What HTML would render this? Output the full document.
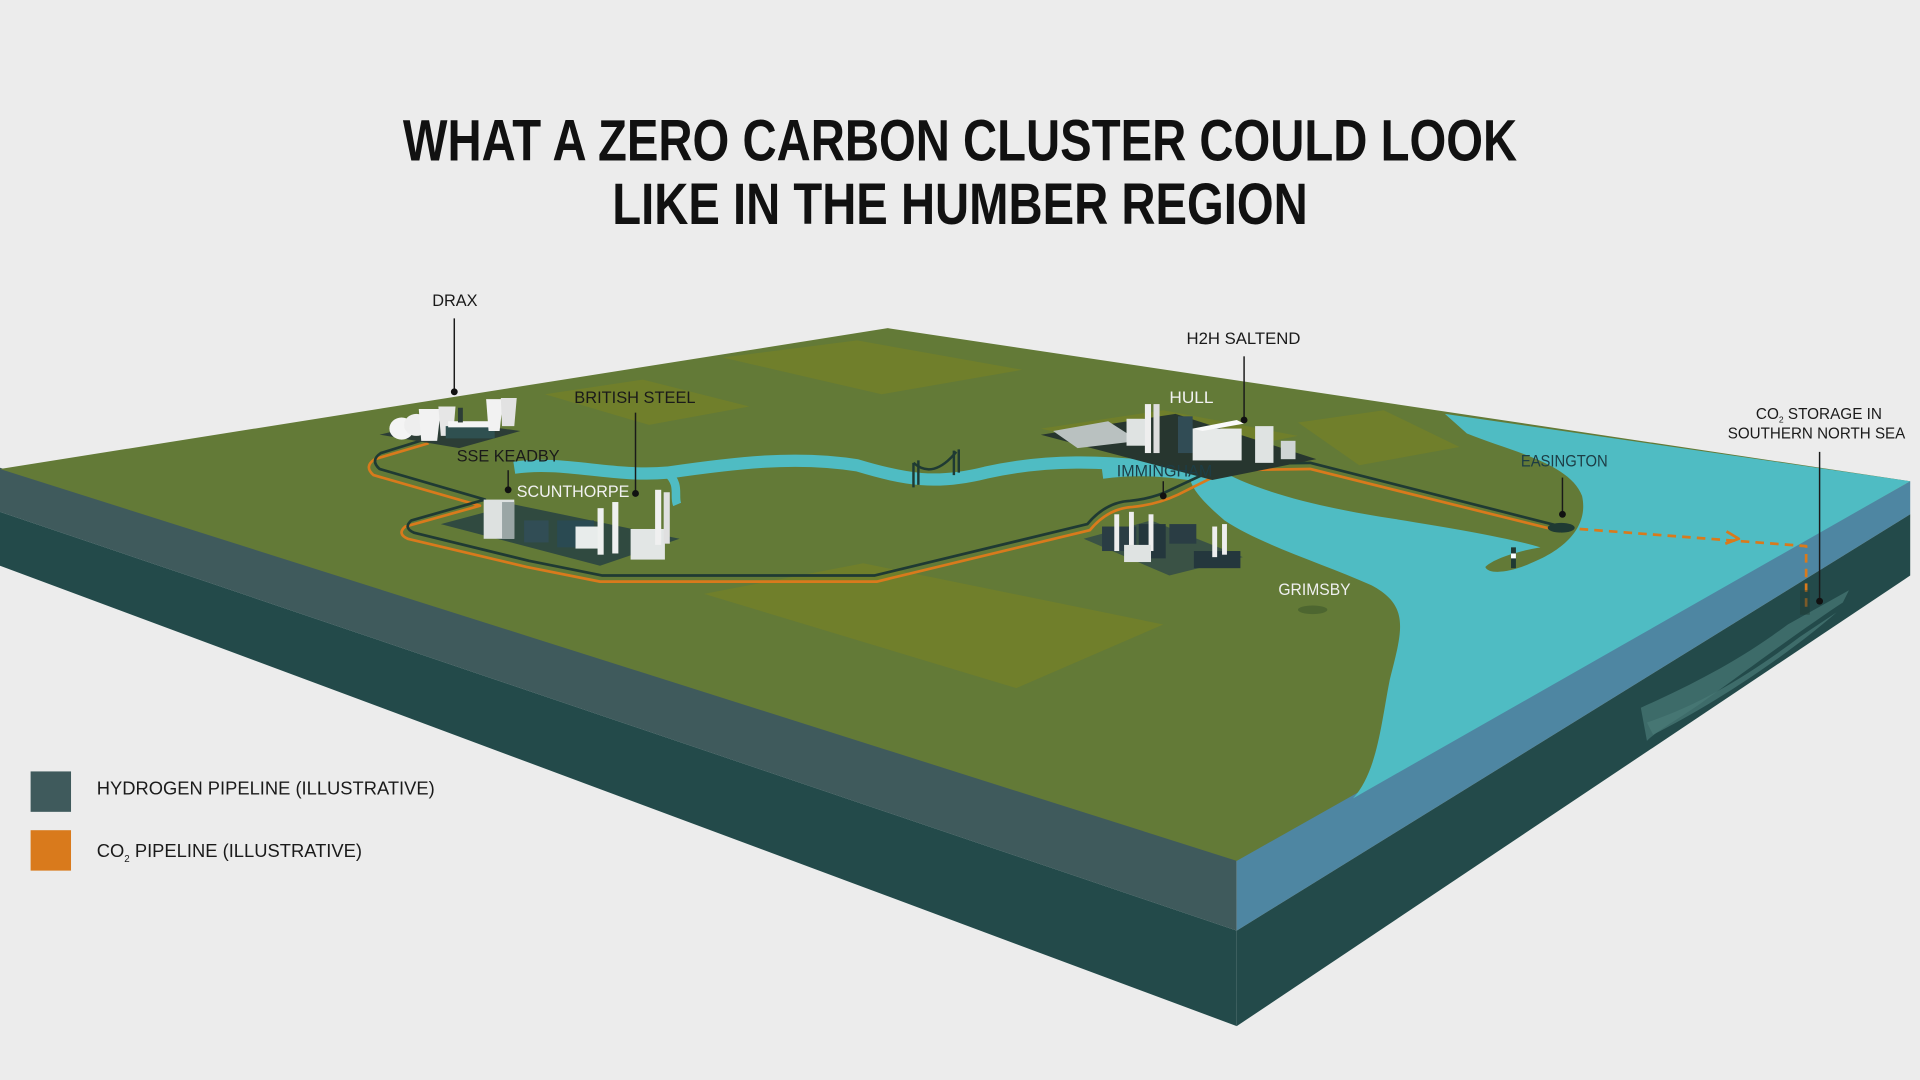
<!DOCTYPE html>
<html><head><meta charset="utf-8"><style>
html,body{margin:0;padding:0;background:#ececec;}
svg{display:block;}
text{font-family:"Liberation Sans",sans-serif;}
</style></head><body>
<svg width="1920" height="1080" viewBox="0 0 1568 882" xmlns="http://www.w3.org/2000/svg">
<rect width="1568" height="882" fill="#ececec"/>
<text x="329" y="131" font-size="48" font-weight="bold" fill="#111" textLength="910" lengthAdjust="spacingAndGlyphs">WHAT A ZERO CARBON CLUSTER COULD LOOK</text>
<text x="500" y="183" font-size="48" font-weight="bold" fill="#111" textLength="568" lengthAdjust="spacingAndGlyphs">LIKE IN THE HUMBER REGION</text>

<polygon points="0,382 1010,702 1010,760 0,418" fill="#3f5a5c"/>
<polygon points="0,418 1010,760 1010,838 0,462" fill="#234a4a"/>
<polygon points="1010,702 1560,393 1560,420 1010,760" fill="#4e86a2"/>
<polygon points="1010,760 1560,420 1560,470 1010,838" fill="#234a4a"/>
<path d="M1340,578 C1380,560 1420,540 1460,510 L1510,482 L1505,492 C1470,515 1430,545 1395,570 C1375,585 1355,595 1345,605 Z" fill="#3d6b69"/>
<path d="M1345,590 C1390,575 1430,550 1470,520 L1500,500 C1460,535 1400,575 1350,600 Z" fill="#4a7a77" opacity="0.7"/>

<polygon points="0,383 725,268 1560,393 1010,703" fill="#637a37"/>
<g fill="#707f2b">
<polygon points="590,292 700,278 835,302 720,322"/>
<polygon points="445,322 525,310 612,332 530,347"/>
<polygon points="575,485 705,460 950,510 830,562"/>
<polygon points="850,350 950,335 1060,356 960,376"/>
<polygon points="1060,345 1130,335 1192,365 1110,380"/>
</g>

<path d="M1180,338 L1560,393 L1105,652 C1125,630 1128,590 1135,555 C1145,515 1152,495 1120,478 C1080,460 1030,445 1000,425 C985,412 975,402 972,392 L1000,386 C1030,402 1080,415 1140,424 C1190,432 1235,440 1258,447 C1240,450 1220,456 1213,463 C1216,470 1235,467 1250,460 C1275,450 1298,432 1292,405 C1282,378 1232,368 1198,354 Z" fill="#4fbcc3"/>
<path d="M420,382 C460,376 500,390 545,386 C600,378 650,372 700,380 C740,392 765,396 805,386 C850,376 900,374 975,386" stroke="#4fbcc3" stroke-width="10" fill="none"/>
<path d="M900,384 C930,380 955,382 990,388" stroke="#4fbcc3" stroke-width="14" fill="none"/>
<path d="M545,386 C556,396 550,405 553,412" stroke="#4fbcc3" stroke-width="7" fill="none"/>

<g fill="none" stroke-width="2.2" stroke-linejoin="round">
<path d="M350,362 L306,375 Q297,381 305,388 L392,413 L331,430 Q324,436 333,440 L430,463 L490,475 L716,475 L890,433 Q905,415 925,414 Q945,412 962,404 L990,390 L1004,384 L1070,383 L1275,434" stroke="#d97a1c"/>
<path d="M353,357 L311,370 Q302,376 310,383 L396,408 L336,425 Q329,431 338,435 L432,458 L492,470 L714,470 L888,428 Q903,410 923,409 Q943,407 958,399 L986,386 L1000,379 L1070,378 L1275,430" stroke="#1f3a33"/>
<path d="M1290,432 L1475,446 L1475,500" stroke="#d97a1c" stroke-dasharray="7,5"/>
<path d="M1410,434 L1420,440 L1409,444" stroke="#d97a1c"/>
</g>

<g>
<polygon points="310,355 360,343 425,352 375,366" fill="#2c3d36"/>
<ellipse cx="328" cy="350" rx="10" ry="9" fill="#f4f4f4"/>
<ellipse cx="340" cy="347" rx="10" ry="9" fill="#eee"/>
<path d="M342,334 L360,334 L357,360 L344,360 Z" fill="#f2f2f2"/>
<path d="M358,332 L372,332 L370,356 L360,356 Z" fill="#e6e6e6"/>
<rect x="364" y="348" width="40" height="10" fill="#2f5050"/>
<rect x="366" y="344" width="34" height="5" fill="#f4f4f4"/>
<rect x="374" y="333" width="4" height="12" fill="#2c3d36"/>
<path d="M397,326 L411,326 L408,352 L399,352 Z" fill="#f2f2f2"/>
<path d="M409,325 L422,325 L420,348 L410,348 Z" fill="#e2e2e2"/>
</g>
<g>
<polygon points="360,428 420,412 555,440 490,462" fill="#304a40"/>
<rect x="395" y="408" width="25" height="32" fill="#dde1e0"/>
<rect x="410" y="410" width="10" height="30" fill="#9aa6a5"/>
<rect x="428" y="425" width="20" height="18" fill="#314d55"/>
<rect x="455" y="425" width="30" height="22" fill="#2a4a52"/>
<rect x="470" y="430" width="20" height="18" fill="#e8eceb"/>
<rect x="488" y="415" width="5" height="38" fill="#eef0ef"/>
<rect x="500" y="410" width="5" height="42" fill="#eef0ef"/>
<rect x="515" y="432" width="28" height="25" fill="#e2e6e5"/>
<rect x="535" y="400" width="5" height="45" fill="#f0f0f0"/>
<rect x="542" y="402" width="5" height="42" fill="#e0e0e0"/>
</g>
<g stroke="#1f3a33" stroke-width="2" fill="none">
<path d="M746,378 L746,398 M750,376 L750,396 M779,368 L779,388 M783,367 L783,386"/>
<path d="M746,378 Q762,392 781,369"/>
</g>
<g>
<polygon points="850,355 960,338 1075,375 990,392" fill="#27362f"/>
<polygon points="860,352 905,344 930,360 880,366" fill="#b9c1c0"/>
<rect x="920" y="342" width="20" height="22" fill="#dfe3e2"/>
<rect x="935" y="330" width="5" height="40" fill="#eee"/>
<rect x="942" y="330" width="5" height="40" fill="#ddd"/>
<rect x="962" y="340" width="12" height="30" fill="#314c55"/>
<rect x="974" y="350" width="40" height="26" fill="#e6e9e8"/>
<polygon points="974,350 1010,343 1016,346 982,352" fill="#fafafa"/>
<rect x="1025" y="348" width="15" height="30" fill="#dfe3e2"/>
<rect x="1046" y="360" width="12" height="15" fill="#cfd5d4"/>
</g>
<g>
<polygon points="885,440 940,425 1015,455 955,470" fill="#3a5245"/>
<rect x="900" y="430" width="28" height="20" fill="#2a3d44"/>
<rect x="910" y="420" width="4" height="30" fill="#eee"/>
<rect x="922" y="418" width="4" height="30" fill="#eee"/>
<rect x="930" y="428" width="22" height="28" fill="#24373d"/>
<rect x="938" y="420" width="4" height="30" fill="#eee"/>
<rect x="955" y="428" width="22" height="16" fill="#2a3d44"/>
<rect x="918" y="445" width="22" height="14" fill="#dfe3e2"/>
<rect x="975" y="450" width="38" height="14" fill="#24373d"/>
<rect x="990" y="430" width="4" height="25" fill="#eee"/>
<rect x="998" y="428" width="4" height="25" fill="#eee"/>
</g>
<rect x="1234" y="447" width="4" height="17" fill="#1f3a33"/>
<rect x="1234" y="452" width="4" height="4" fill="#fff"/>
<ellipse cx="1275" cy="431" rx="11" ry="4" fill="#1f3a33"/>
<ellipse cx="1072" cy="498" rx="12" ry="3.5" fill="#4d6630"/>
<rect x="1470" y="482" width="8" height="20" fill="#1f3a33" opacity="0.5"/>

<g font-size="13.5" fill="#1a1a1a">
<text x="353" y="250" textLength="37" lengthAdjust="spacingAndGlyphs">DRAX</text>
<text x="469" y="329" textLength="99" lengthAdjust="spacingAndGlyphs">BRITISH STEEL</text>
<text x="373" y="377" textLength="84" lengthAdjust="spacingAndGlyphs">SSE KEADBY</text>
<text x="422" y="406" fill="#f2f2f2" textLength="92" lengthAdjust="spacingAndGlyphs">SCUNTHORPE</text>
<text x="969" y="281" textLength="93" lengthAdjust="spacingAndGlyphs">H2H SALTEND</text>
<text x="955" y="329" fill="#f2f2f2" textLength="36" lengthAdjust="spacingAndGlyphs">HULL</text>
<text x="912" y="389" fill="#1d3d45" textLength="78" lengthAdjust="spacingAndGlyphs">IMMINGHAM</text>
<text x="1242" y="381" fill="#1d3d45" textLength="71" lengthAdjust="spacingAndGlyphs">EASINGTON</text>
<text x="1044" y="486" fill="#f0f0f0" textLength="59" lengthAdjust="spacingAndGlyphs">GRIMSBY</text>
<text x="1434" y="342" font-size="12.5">CO<tspan font-size="7" dy="3">2</tspan><tspan dy="-3"> STORAGE IN</tspan></text>
<text x="1411" y="358" font-size="12.5" textLength="145" lengthAdjust="spacingAndGlyphs">SOUTHERN NORTH SEA</text>
</g>
<g stroke="#1a1a1a" stroke-width="1.2">
<line x1="371" y1="260" x2="371" y2="320"/>
<line x1="519" y1="337" x2="519" y2="402"/>
<line x1="415" y1="384" x2="415" y2="400"/>
<line x1="1016" y1="291" x2="1016" y2="343"/>
<line x1="950" y1="393" x2="950" y2="405"/>
<line x1="1276" y1="390" x2="1276" y2="420"/>
<line x1="1486" y1="369" x2="1486" y2="491"/>
</g>
<g fill="#111">
<circle cx="371" cy="320" r="2.8"/><circle cx="519" cy="403" r="2.8"/><circle cx="415" cy="400" r="2.8"/>
<circle cx="1016" cy="343" r="2.8"/><circle cx="950" cy="405" r="2.8"/><circle cx="1276" cy="420" r="2.8"/><circle cx="1486" cy="491" r="2.8"/>
</g>

<rect x="25" y="630" width="33" height="33" fill="#3f5a5c"/>
<rect x="25" y="678" width="33" height="33" fill="#d97a1c"/>
<text x="79" y="649" font-size="15" fill="#1a1a1a" textLength="276" lengthAdjust="spacingAndGlyphs">HYDROGEN PIPELINE  (ILLUSTRATIVE)</text>
<text x="79" y="700" font-size="15" fill="#1a1a1a">CO<tspan font-size="8" dy="4">2</tspan><tspan dy="-4"> PIPELINE (ILLUSTRATIVE)</tspan></text>
</svg>
</body></html>
